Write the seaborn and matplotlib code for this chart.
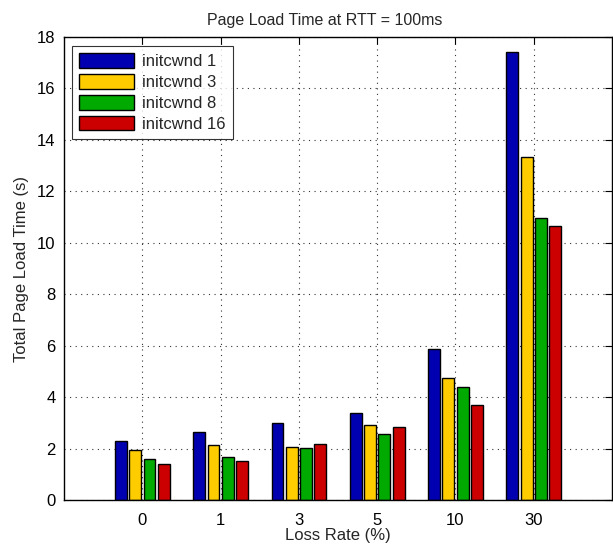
import matplotlib
matplotlib.use("Agg")
import matplotlib.pyplot as plt
import seaborn as sns
import pandas as pd

loss_rates = ["0", "1", "3", "5", "10", "30"]
series_names = ["initcwnd 1", "initcwnd 3", "initcwnd 8", "initcwnd 16"]
initcwnd_1 = [2.30, 2.64, 2.99, 3.39, 5.88, 17.40]
initcwnd_3 = [1.96, 2.13, 2.06, 2.92, 4.74, 13.32]
initcwnd_8 = [1.58, 1.67, 2.04, 2.57, 4.40, 10.96]
initcwnd_16 = [1.39, 1.52, 2.19, 2.83, 3.69, 10.67]
colors = ["#0000B0", "#FFCC00", "#00AA00", "#CC0000"]

rows = []
for name, vals in zip(series_names, [initcwnd_1, initcwnd_3, initcwnd_8, initcwnd_16]):
    for lr, v in zip(loss_rates, vals):
        rows.append({"Loss": lr, "Series": name, "Time": v})
df = pd.DataFrame(rows)

sns.set_theme(style="white")
plt.rcParams["font.family"] = ["Liberation Sans", "DejaVu Sans"]

fig = plt.figure(figsize=(6.13, 5.46), dpi=100)
ax = fig.add_axes([0.1044, 0.0842, 0.894, 0.848])

sns.barplot(data=df, x="Loss", y="Time", hue="Series", order=loss_rates,
            hue_order=series_names, palette=colors, saturation=1, width=0.73, gap=0.17,
            edgecolor="black", linewidth=1.0, ax=ax, legend=True)

ax.set_xlim(-1, 6)
ax.set_ylim(0, 18)
ax.set_yticks(range(0, 19, 2))
ax.grid(True, linestyle=(0, (1, 4)), color="black", linewidth=0.8, alpha=0.8)
ax.set_axisbelow(True)
for s in ax.spines.values():
    s.set_visible(True)
    s.set_color("black")
    s.set_linewidth(1.0)
ax.tick_params(direction="in", length=5, top=True, right=True, labelsize=12,
               colors="black", width=0.8, pad=6)
ax.tick_params(axis="x", pad=9)
ax.set_xlabel("Loss Rate (%)", fontsize=12, labelpad=0)
ax.set_ylabel("Total Page Load Time (s)", fontsize=12, labelpad=6)
ax.set_title("Page Load Time at RTT = 100ms", fontsize=11.5, pad=9, x=0.476)

leg = ax.legend(loc="upper left", bbox_to_anchor=(0.0146, 0.981), borderaxespad=0,
                fontsize=12, frameon=True, fancybox=False, edgecolor="black",
                handlelength=3.3, handleheight=0.95, borderpad=0.45,
                labelspacing=0.3, handletextpad=0.45)
leg.get_frame().set_linewidth(0.8)

fig.savefig("out.png", dpi=100)
